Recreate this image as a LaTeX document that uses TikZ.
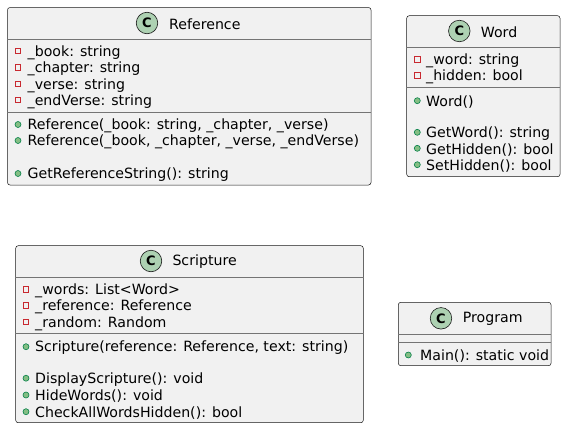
\documentclass[tikz,border=0pt]{standalone}
\usepackage{fontspec}
\setmainfont{DejaVu Sans}
\newfontfamily\umlfont{DejaVu Sans}
\newfontfamily\umlbold{DejaVu Sans Bold}
\definecolor{umlfill}{HTML}{F1F1F1}
\definecolor{umlborder}{HTML}{181818}
\definecolor{umlsep}{HTML}{181818}
\definecolor{spotfill}{HTML}{ADD1B2}
\definecolor{privred}{HTML}{C82930}
\definecolor{pubfill}{HTML}{84BE84}
\definecolor{pubdraw}{HTML}{038048}
\tikzset{
  cls/.style={draw=umlborder, fill=umlfill, rounded corners=2.5pt, line width=0.5pt, inner sep=0pt},
  sepline/.style={draw=umlsep!60, line width=0.5pt},
  mem/.style={anchor=west, inner sep=0pt, yshift=-1.3pt, font=\umlfont\fontsize{14.15}{16}\selectfont, text=black},
  ttl/.style={anchor=west, inner sep=0pt, yshift=-1pt, font=\umlfont\fontsize{14.15}{16}\selectfont, text=black},
  spot/.style={circle, draw=umlborder, fill=spotfill, line width=0.6pt, minimum size=21.5pt, inner sep=0pt, font=\umlbold\fontsize{13}{13}\selectfont},
  priv/.style={rectangle, draw=privred, line width=0.6pt, minimum size=5.5pt, inner sep=0pt},
  pub/.style={circle, draw=pubdraw, fill=pubfill, line width=0.6pt, minimum size=6pt, inner sep=0pt},
}
\begin{document}
\begin{tikzpicture}[x=1pt, y=-1pt]
\useasboundingbox (0,0) rectangle (566,429);

% ---------- Reference ----------
\node[cls, minimum width=363.5pt, minimum height=177.5pt] (ref) at (189.25,96.25) {};
\draw[sepline] (ref.west |- 0,39.5) -- (ref.east |- 0,39.5);
\draw[sepline] (ref.west |- 0,112.5) -- (ref.east |- 0,112.5);
\node[spot] (refC) at (147,23) {C};
\node[ttl] (refT) at (169,23) {Reference};
\node[priv] (refp1) at (18,51) {};
\node[mem] (refm1) at (27.5,51) {\_book: string};
\node[priv] (refp2) at (18,67.5) {};
\node[mem] (refm2) at (27.5,67.5) {\_chapter: string};
\node[priv] (refp3) at (18,84) {};
\node[mem] (refm3) at (27.5,84) {\_verse: string};
\node[priv] (refp4) at (18,100) {};
\node[mem] (refm4) at (27.5,100) {\_endVerse: string};
\node[pub] (refq1) at (18,124.5) {};
\node[mem] (refo1) at (27.5,124.5) {Reference(\_book: string, \_chapter, \_verse)};
\node[pub] (refq2) at (18,140.5) {};
\node[mem] (refo2) at (27.5,140.5) {Reference(\_book, \_chapter, \_verse, \_endVerse)};
\node[pub] (refq3) at (18,173.5) {};
\node[mem] (refo3) at (27.5,173.5) {GetReferenceString(): string};

% ---------- Word ----------
\node[cls, minimum width=153.3pt, minimum height=161pt] (word) at (483.35,96.2) {};
\draw[sepline] (word.west |- 0,47.3) -- (word.east |- 0,47.3);
\draw[sepline] (word.west |- 0,87.3) -- (word.east |- 0,87.3);
\node[spot] (wordC) at (459.3,31) {C};
\node[ttl] (wordT) at (480.7,31) {Word};
\node[priv] (wordp1) at (417.3,59.3) {};
\node[mem] (wordm1) at (426,59.3) {\_word: string};
\node[priv] (wordp2) at (417.3,75.3) {};
\node[mem] (wordm2) at (426,75.3) {\_hidden: bool};
\node[pub] (wordq1) at (417.3,100.7) {};
\node[mem] (wordo1) at (426,100.7) {Word()};
\node[pub] (wordq2) at (417.3,132.3) {};
\node[mem] (wordo2) at (426,132.3) {GetWord(): string};
\node[pub] (wordq3) at (417.3,148.3) {};
\node[mem] (wordo3) at (426,148.3) {GetHidden(): bool};
\node[pub] (wordq4) at (417.3,164.7) {};
\node[mem] (wordo4) at (426,164.7) {SetHidden(): bool};

% ---------- Scripture ----------
\node[cls, minimum width=347.6pt, minimum height=177pt] (scr) at (189.5,334.2) {};
\draw[sepline] (scr.west |- 0,277.3) -- (scr.east |- 0,277.3);
\draw[sepline] (scr.west |- 0,333.3) -- (scr.east |- 0,333.3);
\node[spot] (scrC) at (151,261) {C};
\node[ttl] (scrT) at (172.3,261) {Scripture};
\node[priv] (scrp1) at (26,289.3) {};
\node[mem] (scrm1) at (35,289.3) {\_words: List<Word>};
\node[priv] (scrp2) at (26,305.3) {};
\node[mem] (scrm2) at (35,305.3) {\_reference: Reference};
\node[priv] (scrp3) at (26,322) {};
\node[mem] (scrm3) at (35,322) {\_random: Random};
\node[pub] (scrq1) at (26,346.7) {};
\node[mem] (scro1) at (35,346.7) {Scripture(reference: Reference, text: string)};
\node[pub] (scrq2) at (26,378.2) {};
\node[mem] (scro2) at (35,378.2) {DisplayScripture(): void};
\node[pub] (scrq3) at (26,395) {};
\node[mem] (scro3) at (35,395) {HideWords(): void};
\node[pub] (scrq4) at (26,411.7) {};
\node[mem] (scro4) at (35,411.7) {CheckAllWordsHidden(): bool};

% ---------- Program ----------
\node[cls, minimum width=152.7pt, minimum height=63.4pt] (prog) at (474.65,334) {};
\draw[sepline] (prog.west |- 0,334.3) -- (prog.east |- 0,334.3);
\draw[sepline] (prog.west |- 0,342.7) -- (prog.east |- 0,342.7);
\node[spot] (progC) at (441,318.3) {C};
\node[ttl] (progT) at (462.7,318.3) {Program};
\node[pub] (progq1) at (408.3,355) {};
\node[mem] (progo1) at (420,355) {Main(): static void};
\end{tikzpicture}
\end{document}
